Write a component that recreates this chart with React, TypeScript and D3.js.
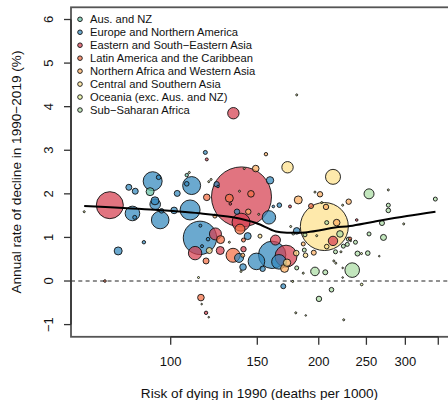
import React from "react";
import * as d3 from "d3";

const W = 448;
const H = 400;
const plot = { left: 71, right: 449, top: 7.3, bottom: 336.8 };

const regionNames = [
  "Aus. and NZ",
  "Europe and Northern America",
  "Eastern and South\u2212Eastern Asia",
  "Latin America and the Caribbean",
  "Northern Africa and Western Asia",
  "Central and Southern Asia",
  "Oceania (exc. Aus. and NZ)",
  "Sub\u2212Saharan Africa",
];
const regionColors = ["#66C2A5", "#3288BD", "#D53E4F", "#F46D43", "#FDAE61", "#FEE08B", "#E6F598", "#ABDDA4"];

// Risk of dying in 1990 (deaths per 1000)
const risk1990 = [
  75.2, 66.7, 91.9, 94.5, 82.2, 84.7, 90.8, 92.9, 93.0, 95.8,
  95.2, 83.6, 84.5, 101.6, 103.1, 110.3, 107.8, 107.8, 109.1, 109.5,
  114.7, 114.9, 119.1, 115.8, 112.1, 118.0, 119.8, 118.4, 117.6, 118.4,
  78.2, 88.2, 73.5, 113.9, 115.2, 115.6, 118.0, 119.5, 139.3, 156.2,
  172.8, 148.9, 159.2, 124.0, 124.8, 119.5, 120.8, 131.6, 132.2, 138.0,
  145.6, 136.4, 143.8, 151.0, 158.4, 139.0, 138.3, 166.3, 161.7, 174.8,
  181.7, 196.5, 192.9, 141.1, 123.0, 134.1, 180.4, 213.8, 253.1, 277.0,
  230.1, 223.7, 206.9, 201.2, 202.8, 277.0, 277.0, 345.2, 238.9, 268.9,
  297.7, 217.5, 207.6, 205.3, 220.9, 213.8, 207.6, 229.7, 231.5, 228.6,
  237.5, 253.1, 270.8, 224.4, 216.3, 221.9, 239.8, 244.3, 251.6, 265.5,
  214.6, 216.6, 233.9, 206.2, 196.5, 223.7, 223.7, 244.5, 212.3, 200.2,
  224.8, 179.6, 188.2, 186.0, 169.4, 177.0, 175.4, 180.4, 177.5, 187.5,
  198.1, 123.3, 126.3, 126.1, 133.9, 137.7, 140.6, 140.1, 140.3, 139.0,
  143.4, 140.6, 131.6, 151.9, 149.4, 160.8, 171.6, 163.3, 166.0, 153.8,
  172.4, 170.4, 180.0, 186.9, 188.0, 195.4, 186.0, 180.4, 232.3,
];

// Annual rate of decline 1990-2019 (%)
const declineRate = [
  1.74, 1.59, 2.29, 2.38, 2.15, 2.06, 2.05, 1.84, 1.76, 1.61,
  1.40, 1.55, 1.46, 1.62, 2.01, 2.19, 2.23, 2.43, 2.49, 1.63,
  0.99, 1.27, 0.96, 0.80, 0.64, 0.46, 0.70, 1.92, 2.95, 2.79,
  0.69, 0.89, 0.00, 0.08, -0.38, -0.53, -0.73, -0.83, 1.93, 2.91,
  2.61, 2.58, 2.31, 2.22, 2.17, 2.28, 2.33, 1.90, 1.77, 2.06,
  2.00, 1.59, 1.59, 1.53, 1.46, 1.35, 1.19, 1.74, 1.71, 1.71,
  1.86, 2.04, 1.72, 2.58, 1.49, 3.85, 4.27, 2.39, 2.00, 2.09,
  1.82, 1.74, 1.70, 1.99, 1.80, 1.74, 1.62, 1.88, 1.40, 1.33,
  1.31, 1.34, 1.34, 1.25, 1.08, 0.92, 0.79, 0.96, 0.97, 0.84,
  0.89, 1.08, 1.00, 0.80, 0.67, 0.67, 0.63, 0.63, 0.64, 0.57,
  0.46, 0.41, 0.25, 0.20, 0.22, 0.30, 0.08, -0.08, -0.20, -0.41,
  -0.89, -0.73, -0.79, 0.18, -0.12, -0.01, 1.25, 1.15, 1.09, 1.06,
  1.04, 1.08, 0.95, 0.70, 0.59, 0.53, 0.73, 0.59, 0.32, 0.22,
  1.03, 0.94, 0.89, 1.03, 0.45, 0.60, 0.57, 0.94, 0.44, 0.28,
  0.42, 0.29, 0.64, 0.71, 0.59, 0.65, 0.85, 0.30, 0.92,
];

// Bubble size (births, millions)
const births = [
  237, 1.3, 117, 6.9, 11.7, 11.7, 20.8, 20.8, 36.5, 6.9,
  100.7, 69.3, 5.2, 14.2, 11.7, 105, 6.9, 3.8, 1.3, 130,
  363, 2.9, 4.2, 2.9, 58.4, 11.7, 11.7, 14.2, 5.2, 2.9,
  20.8, 3.8, 2.2, 1.3, 14.2, 0.8, 3.8, 0.8, 1170, 3.8,
  42.2, 14.2, 17.8, 9.5, 2.2, 1.3, 1.3, 20.8, 2.2, 1.3,
  14.2, 9.5, 9.5, 1.3, 58.4, 105, 32.5, 6.9, 2.2, 2.9,
  20.8, 1.3, 8.1, 1.3, 5.2, 42.2, 1.3, 73.1, 32.5, 1.3,
  9.5, 1.3, 9.5, 9.5, 1.3, 5.2, 6.9, 5.2, 2.2, 8.1,
  1.3, 14.2, 5.2, 749, 14.2, 28.7, 6.9, 5.2, 3.8, 5.2,
  5.2, 5.2, 11.7, 5.2, 5.2, 1.3, 8.1, 1.3, 6.9, 0.8,
  1.3, 1.3, 69.3, 8.1, 24.0, 0.8, 0.8, 2.2, 6.9, 9.5,
  1.3, 1.3, 0.8, 1.3, 8.1, 1.3, 1.3, 14.2, 2.9, 5.2,
  1.3, 46.8, 20.8, 20.8, 63.7, 26.3, 9.5, 5.2, 14.2, 1.3,
  15.9, 5.2, 1.3, 5.2, 89.6, 244, 157, 32.5, 69.3, 9.5,
  17.8, 20.8, 10.2, 5.2, 6.9, 8.1, 5.2, 5.2, 0.8,
];

// Region index into regionNames
const regionOf = [
  2, 6, 1, 1, 1, 1, 0, 1, 1, 1,
  1, 1, 1, 1, 1, 1, 1, 0, 6, 1,
  1, 1, 1, 1, 2, 3, 5, 3, 1, 2,
  1, 1, 3, 6, 3, 6, 2, 6, 2, 4,
  5, 4, 1, 1, 1, 6, 6, 3, 2, 6,
  3, 1, 4, 6, 1, 2, 3, 1, 1, 2,
  4, 6, 3, 6, 4, 2, 6, 5, 7, 6,
  4, 6, 4, 4, 6, 7, 7, 7, 2, 7,
  6, 4, 7, 5, 7, 2, 5, 7, 3, 7,
  7, 7, 7, 7, 7, 6, 7, 6, 7, 6,
  6, 6, 7, 7, 7, 6, 6, 6, 7, 7,
  6, 6, 6, 6, 1, 6, 6, 1, 7, 7,
  6, 2, 3, 2, 3, 1, 2, 4, 1, 6,
  1, 3, 6, 5, 1, 1, 2, 2, 1, 1,
  5, 4, 5, 7, 5, 4, 4, 7, 6,
];

// Smoothed trend through the countries
const trendRisk = [66.7, 90.8, 114.7, 133.8, 149.1, 163.7, 174.8, 187.5, 201.2, 215.8, 231.5, 259.0, 302.3, 345.4];
const trendRate = [1.72, 1.64, 1.553, 1.461, 1.33, 1.135, 1.108, 1.112, 1.163, 1.227, 1.261, 1.36, 1.49, 1.589];

const xTicks = [100, 150, 200, 250, 300, 350];
const xTickLabels = ["100", "150", "200", "250", "300", ""];
const yTicks = [-1, 0, 1, 2, 3, 4, 5, 6];

const font = "'Liberation Sans', Arial, Helvetica, sans-serif";

export default function App() {
  const x = d3.scaleLog().domain([62.7, 366.3]).range([71, 448]);
  const y = d3.scaleLinear().domain([-1.28, 6.28]).range([plot.bottom, plot.top]);
  const r = d3.scaleSqrt().domain([0, 1170]).range([0, 30]);

  const points = risk1990
    .map((v, i) => ({ risk: v, rate: declineRate[i], size: births[i], region: regionOf[i] }))
    .sort((a, b) => b.size - a.size);

  const trend = d3
    .line<number>()
    .x((_, i) => x(trendRisk[i]))
    .y((d) => y(d))
    .curve(d3.curveCatmullRom.alpha(0.5));

  const legendY0 = 19.3;
  const legendStep = 12.96;

  return (
    <svg
      width={W}
      height={H}
      style={{ position: "absolute", left: 0, top: 0, background: "#fff" }}
      fontFamily={font}
    >
      <defs>
        <clipPath id="plotArea">
          <rect x={plot.left} y={plot.top} width={plot.right - plot.left} height={plot.bottom - plot.top} />
        </clipPath>
      </defs>
      <rect x={0} y={0} width={W} height={H} fill="#fff" />

      <g clipPath="url(#plotArea)">
        <line x1={plot.left} x2={plot.right} y1={y(0)} y2={y(0)} stroke="#222" strokeWidth={1} strokeDasharray="4,3.3" />
        {points.map((p, i) => (
          <circle
            key={i}
            cx={x(p.risk)}
            cy={y(p.rate)}
            r={r(p.size)}
            fill={regionColors[p.region]}
            fillOpacity={0.72}
            stroke="#111"
            strokeWidth={0.9}
          />
        ))}
        <path d={trend(trendRate) || ""} fill="none" stroke="#000" strokeWidth={2} />
      </g>

      {/* frame */}
      <rect
        x={plot.left}
        y={plot.top}
        width={plot.right - plot.left}
        height={plot.bottom - plot.top}
        fill="none"
        stroke="#555"
        strokeWidth={1.8}
      />

      {/* y axis */}
      <line x1={plot.left} x2={plot.left} y1={y(-1)} y2={y(6)} stroke="#333" strokeWidth={1.5} />
      {yTicks.map((t) => (
        <g key={t}>
          <line x1={plot.left - 7} x2={plot.left} y1={y(t)} y2={y(t)} stroke="#333" strokeWidth={1.3} />
          <text
            transform={`translate(53.3,${y(t)}) rotate(-90)`}
            textAnchor="middle"
            fontSize={13}
            fill="#111"
          >
            {t < 0 ? `\u2212${Math.abs(t)}` : String(t)}
          </text>
        </g>
      ))}

      {/* x axis */}
      <line x1={x(100)} x2={x(350)} y1={plot.bottom} y2={plot.bottom} stroke="#333" strokeWidth={1.5} />
      {xTicks.map((t, i) => (
        <g key={t}>
          <line x1={x(t)} x2={x(t)} y1={plot.bottom} y2={plot.bottom + 8} stroke="#333" strokeWidth={1.3} />
          <text x={x(t)} y={366.4} textAnchor="middle" fontSize={13} fill="#111">
            {xTickLabels[i]}
          </text>
        </g>
      ))}

      <text x={(plot.left + 448) / 2} y={398} textAnchor="middle" fontSize={13.6} fill="#111">
        Risk of dying in 1990 (deaths per 1000)
      </text>
      <text
        transform={`translate(20.7,${(plot.top + plot.bottom) / 2}) rotate(-90)`}
        textAnchor="middle"
        fontSize={13.6}
        fill="#111"
      >
        Annual rate of decline in 1990{"\u2212"}2019 (%)
      </text>

      {/* legend */}
      {regionNames.map((name, i) => (
        <g key={name}>
          <circle
            cx={80}
            cy={legendY0 + i * legendStep}
            r={2.3}
            fill={regionColors[i]}
            fillOpacity={0.72}
            stroke="#111"
            strokeWidth={0.9}
          />
          <text x={90} y={legendY0 + i * legendStep + 4} fontSize={11.2} fill="#111">
            {name}
          </text>
        </g>
      ))}
    </svg>
  );
}
